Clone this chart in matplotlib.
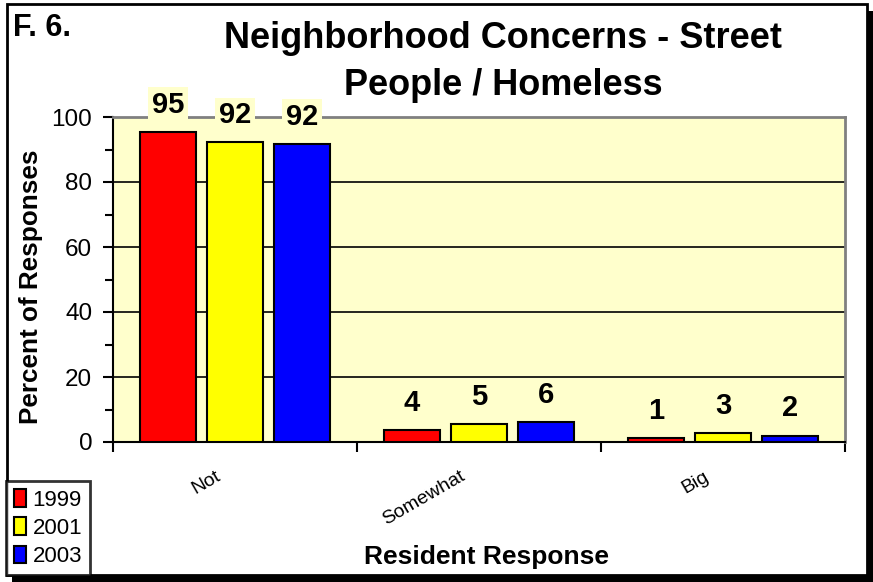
import matplotlib
matplotlib.use('Agg')
import matplotlib.pyplot as plt
import numpy as np
from matplotlib.patches import Rectangle

plt.rcParams['font.family'] = ['Liberation Sans', 'DejaVu Sans']

# data
categories = ['Not', 'Somewhat', 'Big']
years = ['1999', '2001', '2003']
v1999 = [95.4, 3.6, 1.1]
v2001 = [92.3, 5.4, 2.7]
v2003 = [91.7, 6.1, 2.0]
labels1999 = [95, 4, 1]
labels2001 = [92, 5, 3]
labels2003 = [92, 6, 2]
colors = ['#FF0000', '#FFFF00', '#0000FF']
bg = '#FFFFCC'

fig = plt.figure(figsize=(8.73, 5.82), dpi=100)

# frame with shadow
fig.patches.append(Rectangle((12 / 873, 0), 861 / 873, 571 / 582, transform=fig.transFigure,
                             facecolor='black', edgecolor='none', zorder=-3))
fig.patches.append(Rectangle((7 / 873, 7 / 582), 860 / 873, 571 / 582, transform=fig.transFigure,
                             facecolor='white', edgecolor='black', linewidth=2, zorder=-2))

ax = fig.add_axes([113 / 873, 1 - 442 / 582, 732 / 873, 325 / 582])
ax.set_facecolor(bg)

x = np.arange(len(categories))
w = 0.23
off = 0.275
series = [(v1999, labels1999), (v2001, labels2001), (v2003, labels2003)]
for i, (vals, labs) in enumerate(series):
    xs = x + (i - 1) * off
    ax.bar(xs, vals, width=w, color=colors[i], edgecolor='black', linewidth=1.5,
           label=years[i], zorder=3)
    for xi, v, lab in zip(xs, vals, labs):
        ax.text(xi, v + 4, str(lab), ha='center', va='bottom', fontsize=21,
                fontweight='bold', zorder=4,
                bbox=dict(facecolor=bg, edgecolor='none', pad=2.5))

ax.set_xlim(-0.5, 2.5)
ax.set_ylim(0, 100)
ax.set_yticks(np.arange(0, 101, 20))
ax.set_yticks(np.arange(10, 100, 20), minor=True)
ax.yaxis.grid(True, color='black', linewidth=1.2, zorder=1)
ax.set_axisbelow(True)
ax.tick_params(axis='y', which='major', direction='out', length=7, width=1.5,
               labelsize=17.5, pad=8)
ax.tick_params(axis='y', which='minor', direction='out', length=6, width=1.5)

ax.set_xticks([-0.5, 0.5, 1.5, 2.5])
ax.set_xticklabels([])
ax.tick_params(axis='x', which='major', direction='out', length=7, width=1.5)
for xi, c in zip(x, categories):
    ax.text(xi - 0.08, -8, c, rotation=30, ha='right', va='top', rotation_mode='anchor',
            fontsize=14, transform=ax.transData, clip_on=False)

for s in ['left', 'bottom']:
    ax.spines[s].set_color('black')
    ax.spines[s].set_linewidth(1.5)
for s in ['top', 'right']:
    ax.spines[s].set_color('#808080')
    ax.spines[s].set_linewidth(2)

fig.text(31 / 873, 1 - 287 / 582, 'Percent of Responses', rotation=90, ha='center',
         va='center', fontsize=18.8, fontweight='bold')
fig.text(487 / 873, 1 - 557 / 582, 'Resident Response', ha='center', va='center',
         fontsize=19, fontweight='bold')

fig.text(503 / 873, 1 - 62 / 582, 'Neighborhood Concerns - Street\nPeople / Homeless',
         ha='center', va='center', fontsize=26, fontweight='bold', linespacing=1.45)
fig.text(13 / 873, 1 - 28 / 582, 'F. 6.', ha='left', va='center', fontsize=22,
         fontweight='bold')

leg = fig.legend(loc='lower left', bbox_to_anchor=(6 / 873, 7 / 582), fontsize=16,
                 frameon=True, fancybox=False, edgecolor='black', handlelength=0.55,
                 handleheight=0.85, handletextpad=0.3, borderpad=0.35, labelspacing=0.3,
                 borderaxespad=0)
leg.get_frame().set_linewidth(2)

fig.savefig('out.png', dpi=100)
